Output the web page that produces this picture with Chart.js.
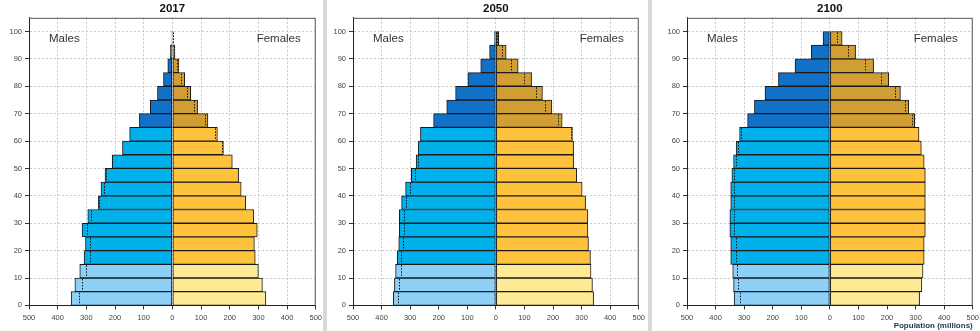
<!DOCTYPE html>
<html>
<head>
<meta charset="utf-8">
<title>World population pyramids 2017 / 2050 / 2100</title>
<script src="https://cdn.jsdelivr.net/npm/chart.js"></script>
<style>
  html, body { margin: 0; padding: 0; background: #fff; }
  body { width: 980px; height: 331px; position: relative; overflow: hidden; }
  canvas { position: absolute; top: 0; }
  .sep { position: absolute; top: 0; width: 4px; height: 331px; background: #d9d9d9; z-index: 2; }
</style>
</head>
<body>
<canvas id="c2017" width="326" height="333" style="left:0px"></canvas>
<div class="sep" style="left:323px"></div>
<canvas id="c2050" width="325" height="333" style="left:324px"></canvas>
<div class="sep" style="left:648px"></div>
<canvas id="c2100" width="325" height="333" style="left:658px"></canvas>

<script>
// age groups, bottom to top
const ageGroups = ['0-4', '5-9', '10-14', '15-19', '20-24', '25-29', '30-34', '35-39', '40-44', '45-49',
                   '50-54', '55-59', '60-64', '65-69', '70-74', '75-79', '80-84', '85-89', '90-94', '95-99'];

// population in millions
const male2017   = [353, 340, 323, 308, 303, 315, 295, 258, 249, 235, 210, 174, 149, 115, 77, 52, 31, 16, 7, 1.5];
const female2017 = [326, 314, 300, 289, 286, 296, 284, 256, 240, 231, 209, 178, 157, 124, 88, 64, 43, 23, 9, 3];

const male2050   = [359, 355, 351, 345, 340, 338, 338, 330, 316, 296, 279, 272, 264, 218, 172, 141, 98, 53, 22, 5];
const female2050 = [342, 338, 333, 331, 324, 322, 322, 314, 302, 283, 272, 272, 268, 232, 196, 163, 125, 78, 36, 10];

const male2100   = [335, 337, 340, 347, 347, 350, 350, 347, 347, 343, 337, 328, 316, 288, 264, 227, 180, 122, 65, 24];
const female2100 = [314, 322, 326, 330, 330, 334, 334, 334, 334, 334, 330, 320, 312, 297, 276, 247, 206, 153, 90, 43];

const xTicks = [-500, -400, -300, -200, -100, 0, 100, 200, 300, 400, 500];
const sideLabels = ['Males', 'Females'];
const xAxisTitle = 'Population (millions)';

Chart.defaults.font.family = '"Liberation Sans", Arial, sans-serif';
Chart.defaults.animation = false;

// 0-14 / 15-64 / 65+
function ageColor(i, light, mid, dark) {
    if (i < 3) return light;
    if (i < 13) return mid;
    return dark;
}

const pyramidExtras = {
    id: 'pyramidExtras',
    afterDatasetsDraw(chart, args, opts) {
        const { ctx, chartArea: a, scales: { x, y } } = chart;
        const half = Math.abs(y.getPixelForValue(0) - y.getPixelForValue(1)) / 2;
        ctx.save();
        // dotted marker: the other sex's value where it is smaller
        ctx.strokeStyle = '#111';
        ctx.lineWidth = 1;
        ctx.setLineDash([1.5, 1.5]);
        opts.male.forEach((m, i) => {
            const f = opts.female[i];
            let v = null;
            if (f < m) v = -f;
            else if (m < f) v = m;
            if (v === null) return;
            const px = Math.round(x.getPixelForValue(v)) + 0.5;
            const cy = y.getPixelForValue(i);
            ctx.beginPath();
            ctx.moveTo(px, cy - half + 1);
            ctx.lineTo(px, cy + half - 1);
            ctx.stroke();
        });
        ctx.setLineDash([]);
        // top and right frame
        ctx.strokeStyle = '#555';
        ctx.beginPath();
        ctx.moveTo(a.left, a.top + 0.5);
        ctx.lineTo(a.right - 0.5, a.top + 0.5);
        ctx.lineTo(a.right - 0.5, a.bottom);
        ctx.stroke();
        // Males / Females
        ctx.fillStyle = '#333';
        ctx.font = '11.5px "Liberation Sans", Arial, sans-serif';
        ctx.textBaseline = 'middle';
        ctx.textAlign = 'left';
        ctx.fillText(sideLabels[0], a.left + 20, a.top + 21.5);
        ctx.textAlign = 'right';
        ctx.fillText(sideLabels[1], a.right - 15, a.top + 21.5);
        ctx.restore();
    }
};

function makePyramid(id, year, male, female, showXTitle) {
    // extra empty band on top so the bars span 0-100 of a 0-105 axis
    const labels = ageGroups.concat(['']);
    return new Chart(document.getElementById(id), {
        type: 'bar',
        data: {
            labels: labels,
            datasets: [
                {
                    label: sideLabels[0],
                    data: male.map(v => -v).concat([null]),
                    backgroundColor: c => ageColor(c.dataIndex, '#8ccff7', '#00b0ea', '#1170c7'),
                    borderColor: '#1a1a1a',
                    borderWidth: 1,
                    borderSkipped: false,
                    barPercentage: 1,
                    categoryPercentage: 1
                },
                {
                    label: sideLabels[1],
                    data: female.concat([null]),
                    backgroundColor: c => ageColor(c.dataIndex, '#ffeb96', '#ffc23c', '#d19e33'),
                    borderColor: '#1a1a1a',
                    borderWidth: 1,
                    borderSkipped: false,
                    barPercentage: 1,
                    categoryPercentage: 1
                }
            ]
        },
        options: {
            indexAxis: 'y',
            responsive: false,
            layout: { padding: { top: 1, right: 0, bottom: 2, left: 0 } },
            plugins: {
                legend: { display: false },
                tooltip: { enabled: false },
                title: {
                    display: true,
                    text: year,
                    fullSize: false,
                    color: '#111',
                    font: { size: 11.5, weight: 'bold' },
                    padding: { top: 1, bottom: 2 }
                },
                pyramidExtras: { male: male, female: female }
            },
            scales: {
                x: {
                    type: 'linear',
                    stacked: true,
                    min: -500,
                    max: 500,
                    afterBuildTicks: s => { s.ticks = xTicks.map(v => ({ value: v })); },
                    ticks: {
                        callback: v => Math.abs(v),
                        color: '#444',
                        font: { size: 7.5 },
                        padding: 4,
                        maxRotation: 0
                    },
                    grid: { color: '#c8c8c8', tickColor: '#333', tickLength: 4, tickBorderDash: [] },
                    border: { color: '#222', dash: [2, 2] },
                    title: {
                        display: true,
                        text: showXTitle ? xAxisTitle : ' ',
                        align: 'end',
                        color: '#1f3550',
                        font: { size: 8, weight: 'bold' },
                        padding: { top: -5, bottom: 0 }
                    }
                },
                y: {
                    type: 'category',
                    stacked: true,
                    reverse: true,
                    display: false
                },
                y2: {
                    type: 'linear',
                    position: 'left',
                    min: 0,
                    max: 105,
                    offset: false,
                    afterBuildTicks: s => { s.ticks = s.ticks.filter(t => t.value % 10 === 0); },
                    afterFit: s => { s.width = 29; },
                    ticks: { stepSize: 10, color: '#444', font: { size: 7.5 }, padding: 3 },
                    grid: { offset: false, color: '#c8c8c8', tickColor: '#333', tickLength: 4, tickBorderDash: [] },
                    border: { color: '#222', dash: [2, 2] }
                }
            }
        },
        plugins: [pyramidExtras]
    });
}

makePyramid('c2017', '2017', male2017, female2017, false);
makePyramid('c2050', '2050', male2050, female2050, false);
makePyramid('c2100', '2100', male2100, female2100, true);
</script>
</body>
</html>
